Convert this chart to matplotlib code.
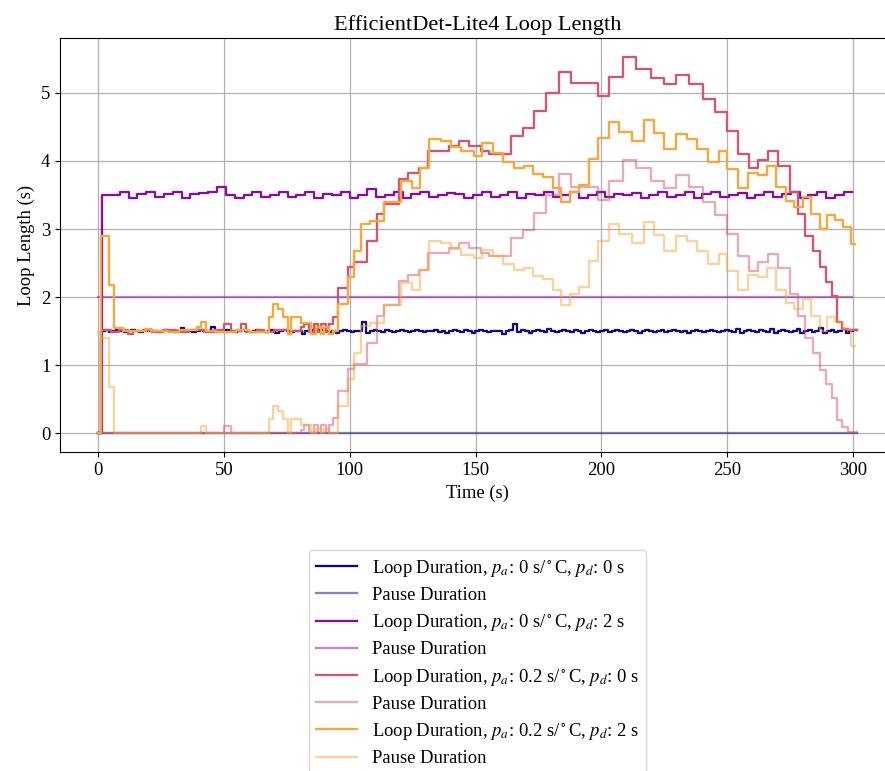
import numpy as np
import matplotlib
matplotlib.use('Agg')
import matplotlib.pyplot as plt

plt.rcParams['font.family'] = ['Liberation Serif', 'DejaVu Serif']
plt.rcParams['mathtext.fontset'] = 'stix'
plt.rcParams['font.size'] = 13.4
plt.rcParams['grid.linewidth'] = 0.9

# --- p_a = 0, p_d = 0: loop durations of every iteration (s), pause always 0
base_start = 1.3
base_loop = [
    1.50, 1.51, 1.49, 1.50, 1.52, 1.50, 1.48, 1.50, 1.51, 1.50, 1.49, 1.50, 1.52, 1.50, 1.50, 1.48, 1.50, 1.51, 1.50, 1.49,
    1.50, 1.55, 1.52, 1.50, 1.49, 1.50, 1.51, 1.50, 1.50, 1.56, 1.48, 1.50, 1.50, 1.52, 1.50, 1.49, 1.50, 1.51, 1.50, 1.48,
    1.50, 1.52, 1.50, 1.49, 1.50, 1.51, 1.47, 1.50, 1.52, 1.50, 1.49, 1.50, 1.50, 1.46, 1.50, 1.52, 1.48, 1.50, 1.51, 1.50,
    1.49, 1.50, 1.47, 1.50, 1.52, 1.50, 1.49, 1.50, 1.50, 1.63, 1.47, 1.50, 1.52, 1.50, 1.49, 1.51, 1.50, 1.48, 1.50, 1.52,
    1.50, 1.49, 1.50, 1.51, 1.50, 1.48, 1.50, 1.50, 1.52, 1.49, 1.50, 1.47, 1.50, 1.51, 1.50, 1.49, 1.52, 1.50, 1.47, 1.50,
    1.51, 1.50, 1.49, 1.50, 1.50, 1.50, 1.46, 1.50, 1.51, 1.61, 1.49, 1.52, 1.50, 1.47, 1.50, 1.51, 1.50, 1.49, 1.53, 1.50,
    1.48, 1.50, 1.52, 1.50, 1.49, 1.51, 1.50, 1.47, 1.50, 1.52, 1.50, 1.49, 1.50, 1.51, 1.48, 1.50, 1.52, 1.50, 1.49, 1.50,
    1.51, 1.50, 1.47, 1.50, 1.52, 1.50, 1.49, 1.50, 1.51, 1.48, 1.50, 1.52, 1.50, 1.49, 1.50, 1.47, 1.50, 1.52, 1.50, 1.49,
    1.50, 1.51, 1.50, 1.48, 1.50, 1.52, 1.50, 1.49, 1.53, 1.47, 1.50, 1.51, 1.50, 1.48, 1.52, 1.50, 1.49, 1.53, 1.47, 1.50,
    1.52, 1.50, 1.48, 1.50, 1.53, 1.47, 1.50, 1.52, 1.49, 1.50, 1.54, 1.47, 1.50, 1.52, 1.48, 1.50, 1.53, 1.47, 1.50, 1.52,
]
base_pause = 0.0

# --- p_a = 0, p_d = 2: loop durations (s), pause always 2
delay_start = 1.6
delay_loop = [
    3.50, 3.50, 3.55, 3.46, 3.51, 3.55, 3.47, 3.51, 3.55, 3.46,
    3.51, 3.53, 3.55, 3.61, 3.50, 3.46, 3.50, 3.55, 3.47, 3.50,
    3.54, 3.47, 3.50, 3.55, 3.46, 3.51, 3.50, 3.55, 3.46, 3.50,
    3.59, 3.47, 3.50, 3.54, 3.46, 3.51, 3.55, 3.47, 3.50, 3.53,
    3.51, 3.46, 3.50, 3.55, 3.47, 3.50, 3.54, 3.46, 3.51, 3.50,
    3.55, 3.47, 3.50, 3.54, 3.46, 3.50, 3.55, 3.47, 3.51, 3.50,
    3.53, 3.46, 3.50, 3.55, 3.47, 3.50, 3.54, 3.46, 3.51, 3.55,
    3.47, 3.50, 3.53, 3.46, 3.50, 3.55, 3.47, 3.51, 3.54, 3.46,
    3.50, 3.55, 3.46, 3.50, 3.54,
]
delay_pause = 2.0

# --- p_a = 0.2, p_d = 0: time of each change (s), loop and pause length (s)
adapt_t = [
    0.0, 1.3, 5.0, 8.5, 11.8, 13.8, 18.0, 21.5, 26.0, 31.0, 36.0, 42.0, 46.0, 50.2, 52.8,
    56.8, 58.8, 63.0, 66.0, 70.0, 75.4, 76.7, 80.6, 82.0, 84.0, 86.0, 87.4, 88.6, 90.6, 91.9,
    93.5, 95.2, 99.2, 101.8, 107.0, 111.0, 113.6, 119.7, 123.0, 127.7, 131.0, 139.6, 143.6, 147.5, 152.2,
    155.5, 164.1, 168.7, 173.3, 178.0, 183.0, 187.9, 198.5, 203.1, 208.5, 213.7, 219.7, 225.0, 229.6, 234.9,
    240.2, 245.2, 250.0, 254.1, 258.5, 262.1, 266.2, 270.3, 274.7, 277.9, 280.9, 283.9, 286.6, 289.2, 291.5,
    293.5, 295.6, 297.8, 301.4,
]
adapt_loop = [
    0.00, 1.51, 1.49, 1.51, 1.45, 1.50, 1.52, 1.49, 1.51, 1.49, 1.51, 1.49, 1.51, 1.60, 1.50,
    1.60, 1.49, 1.52, 1.48, 1.51, 1.45, 1.50, 1.56, 1.61, 1.48, 1.61, 1.48, 1.61, 1.48, 1.61,
    1.71, 2.13, 2.44, 2.51, 2.83, 3.22, 3.37, 3.73, 3.82, 3.90, 4.15, 4.22, 4.30, 4.22, 4.15,
    4.10, 4.37, 4.49, 4.74, 5.00, 5.30, 5.14, 4.96, 5.24, 5.53, 5.35, 5.22, 5.13, 5.26, 5.13,
    4.91, 4.72, 4.44, 4.10, 3.90, 4.02, 4.15, 3.93, 3.55, 3.22, 2.90, 2.68, 2.44, 2.22, 2.02,
    1.63, 1.53, 1.51,
]
adapt_pause = [
    0.00, 0.00, 0.00, 0.00, 0.00, 0.00, 0.00, 0.00, 0.00, 0.00, 0.00, 0.00, 0.00, 0.10, 0.00,
    0.00, 0.00, 0.00, 0.00, 0.00, 0.00, 0.00, 0.05, 0.12, 0.00, 0.12, 0.00, 0.12, 0.00, 0.12,
    0.22, 0.62, 0.94, 1.01, 1.33, 1.72, 1.88, 2.23, 2.32, 2.40, 2.65, 2.72, 2.80, 2.72, 2.65,
    2.60, 2.87, 2.99, 3.24, 3.50, 3.81, 3.62, 3.42, 3.71, 4.01, 3.89, 3.71, 3.60, 3.79, 3.61,
    3.40, 3.21, 2.92, 2.61, 2.39, 2.51, 2.63, 2.43, 2.05, 1.72, 1.40, 1.18, 0.93, 0.72, 0.51,
    0.19, 0.09, 0.02,
]

# --- p_a = 0.2, p_d = 2
both_t = [
    0.0, 1.2, 4.5, 6.5, 10.0, 19.0, 21.0, 28.0, 32.0, 39.4, 41.0, 43.0, 47.0, 55.0, 60.0,
    68.1, 69.4, 71.4, 73.4, 75.4, 76.7, 80.7, 84.6, 86.6, 88.6, 89.9, 91.9, 93.5, 95.2, 99.2,
    101.8, 104.5, 108.2, 113.8, 120.4, 124.8, 127.9, 131.6, 136.3, 140.2, 144.2, 149.2, 152.5, 156.8, 160.8,
    165.1, 169.4, 172.7, 176.7, 180.7, 184.0, 187.6, 191.0, 194.9, 198.7, 203.1, 207.1, 212.3, 216.7, 221.0,
    225.0, 229.6, 234.0, 238.0, 242.2, 246.5, 250.0, 254.1, 258.1, 262.1, 265.8, 269.4, 273.1, 276.4, 280.0,
    283.3, 286.6, 289.6, 292.8, 295.9, 299.2, 300.5,
]
both_loop = [
    0.00, 2.90, 2.17, 1.54, 1.50, 1.53, 1.50, 1.48, 1.51, 1.56, 1.63, 1.50, 1.48, 1.51, 1.49,
    1.71, 1.90, 1.83, 1.71, 1.46, 1.71, 1.62, 1.46, 1.56, 1.46, 1.56, 1.46, 1.50, 1.90, 2.29,
    2.68, 3.07, 3.12, 3.39, 3.71, 3.60, 3.90, 4.32, 4.30, 4.20, 4.15, 4.07, 4.26, 4.11, 3.98,
    3.90, 3.92, 3.81, 3.77, 3.60, 3.39, 3.55, 3.65, 4.03, 4.33, 4.57, 4.42, 4.30, 4.60, 4.41,
    4.18, 4.39, 4.32, 4.17, 3.99, 4.14, 3.88, 3.60, 3.82, 3.80, 3.92, 3.61, 3.41, 3.33, 3.47,
    3.22, 3.00, 3.21, 3.13, 3.03, 2.78,
]
both_pause = [
    0.00, 1.40, 0.68, 0.00, 0.00, 0.00, 0.00, 0.00, 0.00, 0.00, 0.10, 0.00, 0.00, 0.00, 0.00,
    0.21, 0.40, 0.33, 0.21, 0.00, 0.21, 0.12, 0.00, 0.06, 0.00, 0.06, 0.00, 0.00, 0.40, 0.79,
    1.18, 1.57, 1.62, 1.89, 2.21, 2.10, 2.40, 2.82, 2.80, 2.70, 2.62, 2.57, 2.69, 2.61, 2.48,
    2.40, 2.42, 2.31, 2.27, 2.10, 1.89, 2.05, 2.15, 2.53, 2.83, 3.07, 2.92, 2.80, 3.10, 2.91,
    2.68, 2.89, 2.82, 2.67, 2.49, 2.64, 2.38, 2.10, 2.32, 2.30, 2.42, 2.11, 1.91, 1.83, 1.97,
    1.72, 1.50, 1.71, 1.63, 1.53, 1.28,
]

labels = [
    r'Loop Duration, $p_a$: 0 s/$^\circ$C, $p_d$: 0 s',
    r'Loop Duration, $p_a$: 0 s/$^\circ$C, $p_d$: 2 s',
    r'Loop Duration, $p_a$: 0.2 s/$^\circ$C, $p_d$: 0 s',
    r'Loop Duration, $p_a$: 0.2 s/$^\circ$C, $p_d$: 2 s',
]
colors = ['#0d0887', '#8b0aa5', '#d5546e', '#fca636']


def from_durations(start, durations):
    # each loop starts where the previous one ended
    starts = start + np.concatenate([[0.0], np.cumsum(durations)])
    x = np.concatenate([[0.0], starts])
    y = np.concatenate([[0.0], durations, [durations[-1]]])
    return x, y


def from_changes(t, values):
    return np.asarray(t), np.append(values, values[-1])


runs = []
x, y = from_durations(base_start, base_loop)
runs.append((x, y, np.array([0.0, x[-1]]), np.array([base_pause, base_pause])))
x, y = from_durations(delay_start, delay_loop)
runs.append((x, y, np.array([0.0, x[-1]]), np.array([delay_pause, delay_pause])))
x, y = from_changes(adapt_t, adapt_loop)
runs.append((x, y, x, from_changes(adapt_t, adapt_pause)[1]))
x, y = from_changes(both_t, both_loop)
runs.append((x, y, x, from_changes(both_t, both_pause)[1]))

fig = plt.figure(figsize=(8.85, 7.71), dpi=100)
# the plot area runs a little past the right edge of the canvas
ax = fig.add_axes([60 / 885, 1 - 452 / 771, 835 / 885, 414 / 771])

for (lx, ly, px, py), lab, col in zip(runs, labels, colors):
    ax.step(lx, ly, where='post', color=col, lw=1.65, label=lab)
    ax.step(px, py, where='post', color=col, lw=1.65, alpha=0.5, label='Pause Duration')

ax.set_title('EfficientDet-Lite4 Loop Length')
ax.set_xlabel('Time (s)')
ax.set_ylabel('Loop Length (s)')
ax.grid(True)
ax.legend(loc='upper center', bbox_to_anchor=(0.5, -0.215), handlelength=2.2,
          labelspacing=0.44)

fig.savefig('out.png', dpi=100)
